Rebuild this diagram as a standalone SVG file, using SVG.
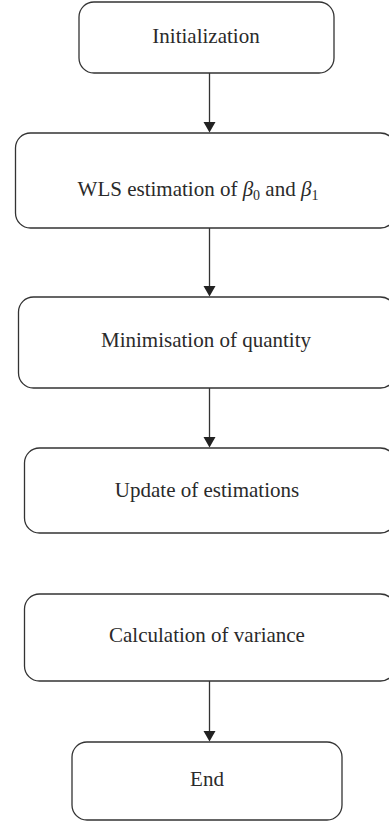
<svg xmlns="http://www.w3.org/2000/svg" width="389" height="823" viewBox="0 0 389 823">
<defs>
<style>
.box{fill:#fff;stroke:#333;stroke-width:1.3}
.lbl{font-family:"Liberation Serif","Times New Roman",serif;font-size:21px;fill:#2a2a2a;text-anchor:middle}
.con{stroke:#333;stroke-width:1.3;fill:none}
.ah{fill:#222}
</style>
</defs>
<rect width="389" height="823" fill="#fff"/>
<g id="n1"><rect class="box" x="79" y="2" width="255" height="71" rx="15"/><text class="lbl" x="206" y="43">Initialization</text></g>
<g id="n2"><rect class="box" x="15.5" y="133" width="380" height="95" rx="15"/><text class="lbl" x="198" y="196">WLS estimation of <tspan font-style="italic">β</tspan><tspan font-size="14" dy="4">0</tspan><tspan dy="-4"> and </tspan><tspan font-style="italic">β</tspan><tspan font-size="14" dy="4">1</tspan></text></g>
<g id="n3"><rect class="box" x="18.5" y="297" width="377" height="91" rx="15"/><text class="lbl" x="206" y="347">Minimisation of quantity</text></g>
<g id="n4"><rect class="box" x="24.5" y="448" width="371" height="85" rx="15"/><text class="lbl" x="207" y="497">Update of estimations</text></g>
<g id="n5"><rect class="box" x="24.5" y="594" width="371" height="87" rx="15"/><text class="lbl" x="207" y="642">Calculation of variance</text></g>
<g id="n6"><rect class="box" x="72" y="742" width="270" height="78" rx="15"/><text class="lbl" x="207" y="786">End</text></g>
<g id="connectors">
<line class="con" x1="209.5" y1="73" x2="209.5" y2="123"/><path class="ah" d="M203.5,122 L215.5,122 L209.5,132.5 Z"/>
<line class="con" x1="209.5" y1="228" x2="209.5" y2="287"/><path class="ah" d="M203.5,286 L215.5,286 L209.5,296.5 Z"/>
<line class="con" x1="209.5" y1="388" x2="209.5" y2="438"/><path class="ah" d="M203.5,437 L215.5,437 L209.5,447.5 Z"/>
<line class="con" x1="209.5" y1="681" x2="209.5" y2="732"/><path class="ah" d="M203.5,731 L215.5,731 L209.5,741.5 Z"/>
</g>
</svg>
